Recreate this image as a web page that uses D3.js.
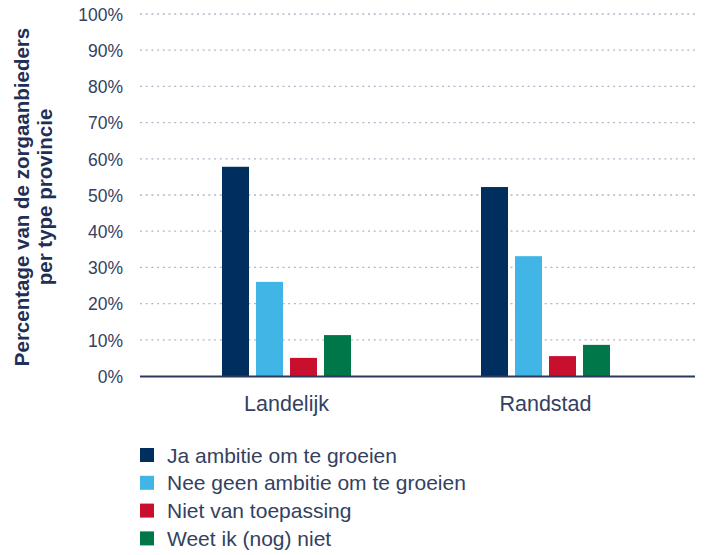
<!DOCTYPE html>
<html>
<head>
<meta charset="utf-8">
<script src="https://cdn.jsdelivr.net/npm/d3@7"></script>
<style>
  body { margin: 0; background: #fff; }
  svg { display: block; font-family: "Liberation Sans", Arial, sans-serif; }
</style>
</head>
<body>
<script>
const categories = ["Landelijk", "Randstad"];
const series = ["Ja ambitie om te groeien", "Nee geen ambitie om te groeien", "Niet van toepassing", "Weet ik (nog) niet"];
const colors = ["#002f5f", "#41b6e6", "#c8102e", "#007749"];
// percentage per series, ordered by category
const jaValues = [57.8, 52.2];
const neeValues = [26.0, 33.1];
const nietValues = [5.0, 5.5];
const weetValues = [11.3, 8.6];
const yTicks = [0, 10, 20, 30, 40, 50, 60, 70, 80, 90, 100];

const values = [jaValues, neeValues, nietValues, weetValues];

const width = 705, height = 555;
const svg = d3.select("body").append("svg")
  .attr("width", width)
  .attr("height", height);

const groupW = 129;
const y = d3.scaleLinear().domain([0, 100]).range([376, 14]);
const x0 = d3.scaleBand().domain(categories).range([157, 675]);
const x1 = d3.scaleBand().domain(series).range([0, groupW]).paddingInner(0.206);

// gridlines
svg.append("g")
  .selectAll("line")
  .data(yTicks.filter(d => d > 0))
  .enter().append("line")
  .attr("x1", 140).attr("x2", 695)
  .attr("y1", d => y(d)).attr("y2", d => y(d))
  .attr("stroke", "#b4b4cc")
  .attr("stroke-width", 1.3)
  .attr("stroke-dasharray", "2,3.7");

// y axis labels
const yAxis = svg.append("g")
  .attr("transform", "translate(123,0)")
  .call(d3.axisLeft(y).tickValues(yTicks).tickFormat(d => d + "%").tickSize(0).tickPadding(0));
yAxis.select(".domain").remove();
yAxis.selectAll("text")
  .attr("font-size", 17.5)
  .attr("fill", "#33415f")
  .attr("dy", "0.36em");

// bars
const groups = svg.append("g")
  .selectAll("g")
  .data(categories)
  .enter().append("g")
  .attr("transform", d => `translate(${x0(d) + (x0.bandwidth() - groupW) / 2},0)`);

groups.selectAll("rect")
  .data((c, i) => series.map((s, k) => ({ s, k, v: values[k][i] })))
  .enter().append("rect")
  .attr("x", d => x1(d.s))
  .attr("y", d => y(d.v))
  .attr("width", x1.bandwidth())
  .attr("height", d => y(0) - y(d.v))
  .attr("fill", d => colors[d.k]);

// x axis line
svg.append("line")
  .attr("x1", 140).attr("x2", 695)
  .attr("y1", y(0) + 0.5).attr("y2", y(0) + 0.5)
  .attr("stroke", "#2b3a5c")
  .attr("stroke-width", 2);

// category labels
svg.append("g")
  .selectAll("text")
  .data(categories)
  .enter().append("text")
  .attr("x", d => x0(d) + x0.bandwidth() / 2)
  .attr("y", 411)
  .attr("text-anchor", "middle")
  .attr("font-size", 21.5)
  .attr("fill", "#33415f")
  .text(d => d);

// y axis title
const title = svg.append("text")
  .attr("transform", "translate(0,197) rotate(-90)")
  .attr("text-anchor", "middle")
  .attr("font-size", 20.5)
  .attr("font-weight", "bold")
  .attr("fill", "#1f2f55");
title.append("tspan").attr("x", 0).attr("y", 29).text("Percentage van de zorgaanbieders");
title.append("tspan").attr("x", 0).attr("y", 52).text("per type provincie");

// legend
const legend = svg.append("g")
  .selectAll("g")
  .data(series)
  .enter().append("g")
  .attr("transform", (d, i) => `translate(140,${455 + i * 27.8})`);

legend.append("rect")
  .attr("x", 0).attr("y", -7)
  .attr("width", 14).attr("height", 14)
  .attr("fill", (d, i) => colors[i]);

legend.append("text")
  .attr("x", 27)
  .attr("y", 0)
  .attr("dy", "0.36em")
  .attr("font-size", 21)
  .attr("fill", "#33415f")
  .text(d => d);
</script>
</body>
</html>
